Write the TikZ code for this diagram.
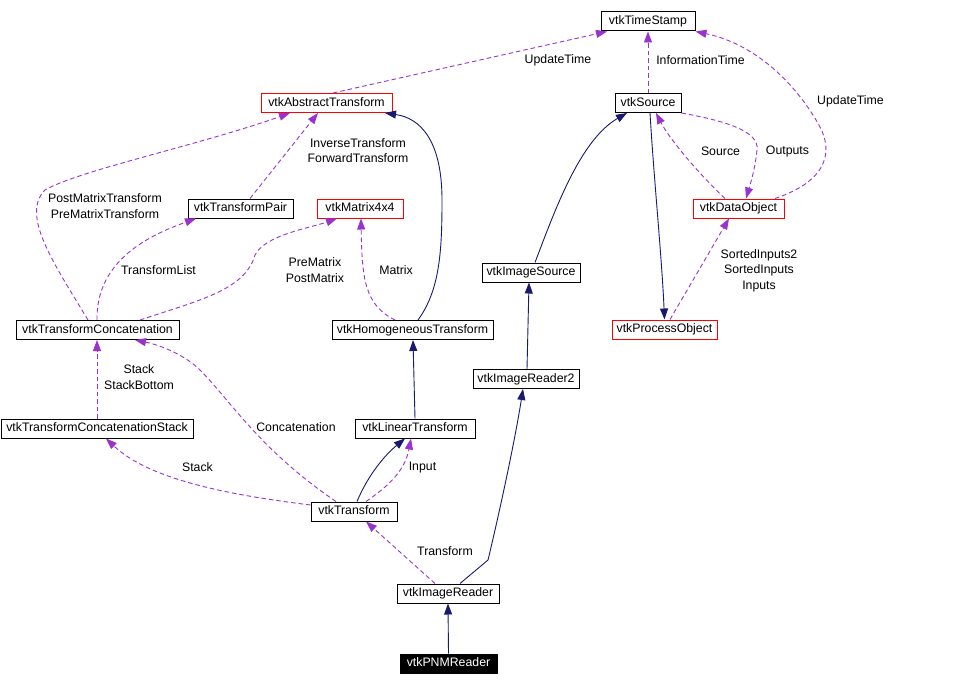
\documentclass[tikz,border=0pt]{standalone}
\usepackage{fontspec}
\setmainfont{Liberation Sans}
\usetikzlibrary{arrows.meta}
\definecolor{usecol}{HTML}{9A32CD}
\definecolor{inhcol}{HTML}{191970}
\begin{document}
\begin{tikzpicture}[x=1pt,y=-1pt,
  cls/.style={draw=black, line width=1pt, inner sep=0pt, minimum height=19pt,
    text height=8.8pt, text depth=2.6pt, font=\fontsize{12.3}{15}\selectfont},
  redcls/.style={cls, draw=red},
  lbl/.style={inner sep=0pt, align=center, font=\fontsize{12.3}{15.5}\selectfont},
  use/.style={draw=usecol, line width=0.9pt, dash pattern=on 4.5pt off 3pt,
    -{Triangle[length=11pt,width=8pt]}},
  inh/.style={draw=inhcol, line width=0.9pt, -{Triangle[length=11pt,width=8pt]}}]
\useasboundingbox (0,0) rectangle (953,685);

% classes
\node[cls, minimum width=94pt] (ts) at (648,21.5) {vtkTimeStamp};
\node[cls, minimum width=66pt] (src) at (648,103) {vtkSource};
\node[redcls, minimum width=131pt] (abs) at (326.5,103) {vtkAbstractTransform};
\node[redcls, minimum width=86pt] (mat) at (360,208.5) {vtkMatrix4x4};
\node[cls, minimum width=105pt] (pair) at (240.5,208.5) {vtkTransformPair};
\node[redcls, minimum width=91pt] (dobj) at (738.5,208.5) {vtkDataObject};
\node[cls, minimum width=163pt] (conc) at (97.5,330) {vtkTransformConcatenation};
\node[cls, minimum width=161pt] (homo) at (412.5,330) {vtkHomogeneousTransform};
\node[cls, minimum width=98pt] (isrc) at (531,272.5) {vtkImageSource};
\node[redcls, minimum width=105pt] (proc) at (664.5,329.5) {vtkProcessObject};
\node[cls, minimum width=106pt] (ir2) at (526,379) {vtkImageReader2};
\node[cls, minimum width=192pt] (stack) at (97,428.5) {vtkTransformConcatenationStack};
\node[cls, minimum width=120pt] (lin) at (415,428.5) {vtkLinearTransform};
\node[cls, minimum width=86pt] (tr) at (354,511.5) {vtkTransform};
\node[cls, minimum width=102pt] (ir) at (448,593.5) {vtkImageReader};
\node[cls, minimum width=97pt, fill=black, text=white] (pnm) at (448.5,663.5) {vtkPNMReader};

% labels
\node[lbl] (l1) at (558,60) {UpdateTime};
\node[lbl] (l2) at (700.5,60) {InformationTime};
\node[lbl] (l3) at (850.5,101) {UpdateTime};
\node[lbl] (l4) at (358,150.5) {InverseTransform\\ForwardTransform};
\node[lbl] (l5) at (105,206) {PostMatrixTransform\\PreMatrixTransform};
\node[lbl] (l6) at (158.5,270) {TransformList};
\node[lbl] (l7) at (315,270) {PreMatrix\\PostMatrix};
\node[lbl] (l8) at (396,270) {Matrix};
\node[lbl] (l9) at (720.5,151) {Source};
\node[lbl] (l10) at (787.5,151) {Outputs};
\node[lbl] (l11) at (759,270.5) {SortedInputs2\\SortedInputs\\Inputs};
\node[lbl] (l12) at (139,377) {Stack\\StackBottom};
\node[lbl] (l13) at (296,427) {Concatenation};
\node[lbl] (l14) at (197.5,467) {Stack};
\node[lbl] (l15) at (422.5,468) {Input};
\node[lbl] (l16) at (445,551) {Transform};

% connectors
\draw[use] ([xshift=6.5pt]abs.north) -- ([xshift=-41pt]ts.south);
\draw[use] (src.north) -- (ts.south);
\draw[use] ([xshift=36.5pt]dobj.north) .. controls (830,180) and (832,150) .. (820,127)
  .. controls (800,90) and (760,45) .. (ts.south east);
\draw[inh] ([xshift=4pt]isrc.north) .. controls (555,210) and (580,140) .. ([xshift=-21pt]src.south);
\draw[inh] ([xshift=2pt]src.south) .. controls (654,180) and (662,260) .. (proc.north);
\draw[use] ([xshift=-13.5pt]dobj.north) .. controls (700,175) and (670,140) .. ([xshift=8pt]src.south);
\draw[use] (src.south east) .. controls (720,120) and (760,130) .. (757,150)
  .. controls (755,170) and (750,185) .. ([xshift=7.5pt]dobj.north);
\draw[use] ([xshift=5.5pt]proc.north) -- ([xshift=-9.5pt]dobj.south);
\draw[use] ([xshift=9.5pt]pair.north) -- ([xshift=-8.5pt]abs.south);
\draw[use] ([xshift=-9.5pt]conc.north) .. controls (55,265) and (20,215) .. (45,190)
  .. controls (80,170) and (200,145) .. ([xshift=-36.5pt]abs.south);
\draw[use] ([xshift=-0.5pt]conc.north) .. controls (96,260) and (150,235) .. ([xshift=-44.5pt]pair.south);
\draw[use] ([xshift=42.5pt]conc.north) .. controls (200,300) and (245,290) .. (255,255)
  .. controls (265,235) and (310,228) .. ([xshift=-23pt]mat.south);
\draw[use] ([xshift=-17.5pt]homo.north) .. controls (365,305) and (362,280) .. ([xshift=1pt]mat.south);
\draw[inh] ([xshift=5.5pt]homo.north) .. controls (440,290) and (442,250) .. (442,200)
  .. controls (442,140) and (420,118) .. ([xshift=58.5pt]abs.south);
\draw[inh] (lin.north) -- ([xshift=0.5pt]homo.south);
\draw[use] (stack.north) -- ([xshift=-0.5pt]conc.south);
\draw[use] ([xshift=-18pt]tr.north) .. controls (260,450) and (230,400) .. (200,370)
  .. controls (185,355) and (160,345) .. ([xshift=37.5pt]conc.south);
\draw[use] ([yshift=6.5pt]tr.west) .. controls (230,495) and (150,480) .. ([xshift=9pt]stack.south);
\draw[inh] ([xshift=3pt]tr.north) .. controls (368,475) and (385,455) .. ([xshift=-10pt]lin.south);
\draw[use] ([xshift=12pt]tr.north) .. controls (390,485) and (405,470) .. ([xshift=-4pt]lin.south);
\draw[use] ([xshift=-13pt]ir.north) -- ([xshift=12pt]tr.south);
\draw[inh] ([xshift=12pt]ir.north) -- (488,560) .. controls (500,510) and (515,440) .. ([xshift=-3pt]ir2.south);
\draw[inh] ([xshift=1pt]ir2.north) -- ([xshift=-2pt]isrc.south);
\draw[inh] (pnm.north) -- (ir.south);
\end{tikzpicture}
\end{document}
